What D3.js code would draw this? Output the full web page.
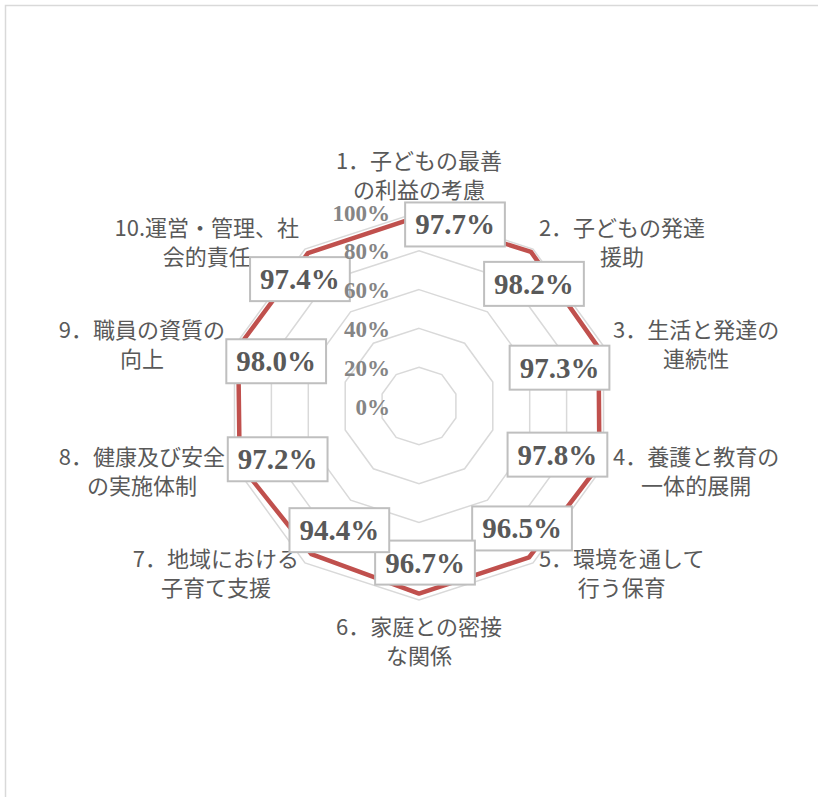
<!DOCTYPE html>
<html>
<head>
<meta charset="utf-8">
<script src="https://cdn.jsdelivr.net/npm/d3@7"></script>
<style>
	html, body { margin: 0; padding: 0; background: #fff; }
	svg { display: block; }
</style>
</head>
<body>
<div id="chart"></div>
<script>

// categories (two lines each, as drawn)
const categories = [
	["1．子どもの最善", "の利益の考慮"],
	["2．子どもの発達", "援助"],
	["3．生活と発達の", "連続性"],
	["4．養護と教育の", "一体的展開"],
	["5．環境を通して", "行う保育"],
	["6．家庭との密接", "な関係"],
	["7．地域における", "子育て支援"],
	["8．健康及び安全", "の実施体制"],
	["9．職員の資質の", "向上"],
	["10.運営・管理、社", "会的責任"]
];

const values = [0.977, 0.982, 0.973, 0.978, 0.965, 0.967, 0.944, 0.972, 0.980, 0.974];

const tickValues = [0, 0.2, 0.4, 0.6, 0.8, 1.0];

// where each value box sits relative to its point
const labelOffsets = [
	[36, 8], [3, 32], [-39, 20], [-42, -10], [-7, -29],
	[6, -31], [28, -24], [38, -5], [38, 14], [-8, 26]
];

const WIDTH = 818;
const HEIGHT = 797;
const CX = 419;
const CY = 406;
const RADIUS = 194;
const TEXT_COLOR = "#595959";
const GRID_COLOR = "#d9d9d9";
const LINE_COLOR = "#c0504d";
const CAT_FONT = "'Noto Sans CJK JP', 'Noto Sans', sans-serif";
// only the bold face of the serif seems to be picked up here
const NUM_FONT = "'Liberation Serif', 'DejaVu Serif', serif";

const svg = d3.select("#chart").append("svg")
	.attr("width", WIDTH)
	.attr("height", HEIGHT);

// chart area border
svg.append("rect")
	.attr("x", 5.5)
	.attr("y", 5.5)
	.attr("width", WIDTH + 20)
	.attr("height", HEIGHT + 20)
	.attr("fill", "#fff")
	.attr("stroke", GRID_COLOR)
	.attr("stroke-width", 1.5);

const g = svg.append("g")
	.attr("transform", "translate(" + CX + "," + CY + ")");

const n = categories.length;
const angle = d3.scaleLinear().domain([0, n]).range([0, 2 * Math.PI]);
const r = d3.scaleLinear().domain([0, 1]).range([0, RADIUS]);

const point = (i, v) => [Math.sin(angle(i)) * r(v), -Math.cos(angle(i)) * r(v)];

const ring = d3.line().curve(d3.curveLinearClosed);

// grid rings
g.selectAll(".ring")
	.data(tickValues.filter(t => t > 0))
	.enter()
	.append("path")
	.attr("class", "ring")
	.attr("d", t => ring(d3.range(n).map(i => point(i, t))))
	.attr("fill", "none")
	.attr("stroke", GRID_COLOR)
	.attr("stroke-width", 1.5);

// series line
g.append("path")
	.attr("d", ring(values.map((v, i) => point(i, v))))
	.attr("fill", "none")
	.attr("stroke", LINE_COLOR)
	.attr("stroke-width", 4.5)
	.attr("stroke-linejoin", "round");

// category labels
const LINE_H = 29;
categories.forEach((lines, i) => {
	let a = angle(i);
	let dx = Math.sin(a), dy = -Math.cos(a);
	let px = dx * (RADIUS + 10), py = dy * (RADIUS + 10);
	let lab = g.append("g");
	let texts = lines.map((s, k) => lab.append("text")
		.attr("text-anchor", "middle")
		.attr("dominant-baseline", "central")
		.attr("font-family", CAT_FONT)
		.attr("font-size", 22)
		.attr("fill", TEXT_COLOR)
		.attr("y", (k - (lines.length - 1) / 2) * LINE_H)
		.text(s));
	let w = d3.max(texts, t => t.node().getComputedTextLength());
	let h = lines.length * LINE_H;
	let x = px, y = py;
	if (Math.abs(dx) < 0.01) {
		y = py + Math.sign(dy) * h / 2;
	} else {
		x = px + Math.sign(dx) * w / 2;
	}
	lab.attr("transform", "translate(" + x + "," + y + ")");
});

// value labels
const fmt = d3.format(".1%");
values.forEach((v, i) => {
	let [x, y] = point(i, v);
	let lab = g.append("g")
		.attr("transform", "translate(" + (x + labelOffsets[i][0]) + "," + (y + labelOffsets[i][1]) + ")");
	let box = lab.append("rect");
	let t = lab.append("text")
		.attr("text-anchor", "middle")
		.attr("dominant-baseline", "central")
		.attr("font-family", NUM_FONT)
		.attr("font-size", 29)
		.attr("font-weight", "bold")
		.attr("fill", TEXT_COLOR)
		.text(fmt(v));
	let w = t.node().getComputedTextLength() + 20;
	box.attr("x", -w / 2)
		.attr("y", -22)
		.attr("width", w)
		.attr("height", 44)
		.attr("fill", "#fff")
		.attr("stroke", "#bfbfbf")
		.attr("stroke-width", 2);
});

// tick labels (kept on top so 60% stays readable next to the 97.4% box)
g.selectAll(".tick")
	.data(tickValues)
	.enter()
	.append("text")
	.attr("class", "tick")
	.attr("x", -29)
	.attr("y", t => -r(t) + 1)
	.attr("text-anchor", "end")
	.attr("dominant-baseline", "central")
	.attr("font-family", NUM_FONT)
	.attr("font-weight", "bold")
	.attr("font-size", 23)
	.attr("fill", "#858585")
	.text(t => d3.format(".0%")(t));

</script>
</body>
</html>
